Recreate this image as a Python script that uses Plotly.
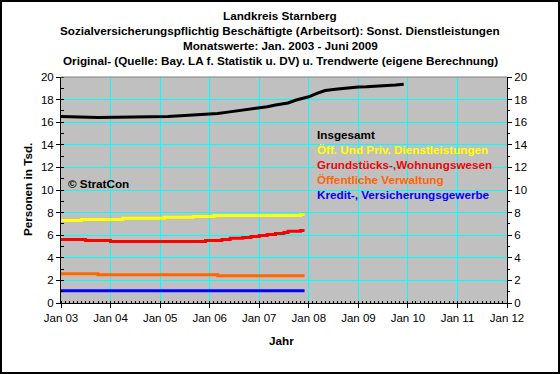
import plotly.graph_objects as go

# ---- data ----
total_dates = ["2003-01-01","2003-10-01","2005-03-01","2005-08-01","2005-12-01","2006-03-01",
               "2006-05-01","2006-07-01","2006-09-01","2006-11-01","2007-01-01","2007-03-01",
               "2007-05-01","2007-08-01","2007-10-01","2008-01-01","2008-03-01","2008-05-01",
               "2008-08-01","2008-10-01","2009-01-01","2009-03-01","2009-05-01","2009-08-01",
               "2009-10-01","2009-12-01"]
total_vals = [16.50,16.42,16.50,16.60,16.70,16.78,16.87,16.96,17.08,17.17,17.26,17.37,
              17.52,17.70,17.96,18.25,18.55,18.80,18.94,19.03,19.12,19.14,19.17,19.20,19.29,19.35]

dl_dates = ["2003-01-01","2003-06-01","2004-04-01","2005-02-01","2005-09-01","2006-02-01","2007-11-01","2007-12-01"]
dl_vals = [7.31,7.40,7.49,7.58,7.66,7.75,7.84,7.84]

gw_dates = ["2003-01-01","2003-07-01","2004-01-01","2005-12-01","2006-04-01","2006-06-01","2006-09-01",
            "2006-11-01","2007-01-01","2007-03-01","2007-05-01","2007-07-01","2007-08-01","2007-11-01","2007-12-01"]
gw_vals = [5.63,5.54,5.45,5.54,5.63,5.72,5.80,5.89,5.98,6.07,6.16,6.25,6.34,6.42,6.42]

ov_dates = ["2003-01-01","2003-10-01","2006-03-01","2007-12-01"]
ov_vals = [2.59,2.50,2.42,2.42]

kv_dates = ["2003-01-01","2007-12-01"]
kv_vals = [1.09,1.09]

series_names = ["Insgesamt","Öff. Und Priv. Dienstleistungen","Grundstücks-,Wohnungswesen",
                "Öffentliche Verwaltung","Kredit-, Versicherungsgewerbe"]
series_colors = ["#000000","#FFFF00","#FF0000","#FF6600","#0000FF"]

title_lines = ["Landkreis Starnberg",
               "Sozialversicherungspflichtig Beschäftigte (Arbeitsort): Sonst. Dienstleistungen",
               "Monatswerte: Jan. 2003 - Juni 2009",
               "Original- (Quelle: Bay. LA f. Statistik u. DV) u. Trendwerte (eigene Berechnung)"]

# ---- layout constants ----
W, H = 560, 374
ml, mr, mt, mb = 61, 53, 77, 71
pw, ph = W - ml - mr, H - mt - mb
def px(x):  # pixel -> paper x
    return (x - ml) / pw
def py(y):  # pixel -> paper y
    return (H - mb - y) / ph

FONT = "Liberation Sans, Arial, sans-serif"
BOLD = 11.7
TICK = 11.5

fig = go.Figure()
data = [(total_dates, total_vals, "linear"), (dl_dates, dl_vals, "hv"), (gw_dates, gw_vals, "hv"),
        (ov_dates, ov_vals, "hv"), (kv_dates, kv_vals, "hv")]
for (d, v, shape), name, col in zip(data, series_names, series_colors):
    fig.add_trace(go.Scatter(x=d, y=v, mode="lines", name=name,
                             line=dict(color=col, width=3, shape=shape), showlegend=False))
# invisible trace to anchor right axis
fig.add_trace(go.Scatter(x=kv_dates, y=kv_vals, yaxis="y2", mode="lines",
                         line=dict(width=0), opacity=0, showlegend=False, hoverinfo="skip"))

yax = dict(range=[0, 20], dtick=2, showgrid=True, gridcolor="#00FFFF", gridwidth=1,
           showline=True, linecolor="#000000", linewidth=1, ticks="outside", ticklen=4,
           tickcolor="#000000", zeroline=False,
           tickfont=dict(family=FONT, size=TICK, color="#000000"),
           minor=dict(dtick=1, ticks="inside", ticklen=3, tickcolor="#000000", showgrid=False))

fig.update_layout(
    width=W, height=H, margin=dict(l=ml, r=mr, t=mt, b=mb),
    paper_bgcolor="#FFFFFF", plot_bgcolor="#C0C0C0",
    xaxis=dict(type="date", range=["2003-01-01", "2012-01-01"], dtick="M12", tick0="2003-01-01",
               tickformat="%b %y", showgrid=True, gridcolor="#00FFFF", gridwidth=1,
               showline=True, linecolor="#000000", linewidth=1, ticks="outside", ticklen=4,
               tickcolor="#000000", zeroline=False,
               tickfont=dict(family=FONT, size=TICK, color="#000000"),
               minor=dict(dtick="M1", ticks="inside", ticklen=2, tickcolor="#000000", showgrid=False)),
    yaxis=yax,
    yaxis2=dict(yax, overlaying="y", side="right", showgrid=False,
                minor=dict(dtick=1, ticks="outside", ticklen=2, tickcolor="#000000", showgrid=False)),
    font=dict(family=FONT, size=11, color="#000000"),
)

anns = []
for i, t in enumerate(title_lines):
    anns.append(dict(text="<b>%s</b>" % t, x=px(280), y=py(15 + i * 15.3), xref="paper", yref="paper",
                     xanchor="center", yanchor="middle", showarrow=False,
                     font=dict(family=FONT, size=BOLD, color="#000000")))
anns.append(dict(text="<b>Personen in Tsd.</b>", x=px(27), y=py(190), xref="paper", yref="paper",
                 textangle=-90, xanchor="center", yanchor="middle", showarrow=False,
                 font=dict(family=FONT, size=BOLD, color="#000000")))
anns.append(dict(text="<b>Jahr</b>", x=px(281), y=py(340), xref="paper", yref="paper",
                 xanchor="center", yanchor="middle", showarrow=False,
                 font=dict(family=FONT, size=BOLD, color="#000000")))
anns.append(dict(text="<b>© StratCon</b>", x=px(66), y=py(183), xref="paper", yref="paper",
                 xanchor="left", yanchor="middle", showarrow=False,
                 font=dict(family=FONT, size=BOLD, color="#000000")))
for i, (name, col) in enumerate(zip(series_names, series_colors)):
    anns.append(dict(text="<b>%s</b>" % name, x=px(315), y=py(134 + i * 15.1), xref="paper", yref="paper",
                     xanchor="left", yanchor="middle", showarrow=False,
                     font=dict(family=FONT, size=BOLD, color=col)))
fig.update_layout(annotations=anns)

# plot area top border (grey) and outer black frame
fig.add_shape(type="line", xref="paper", yref="paper", x0=0, x1=1, y0=1, y1=1,
              line=dict(color="#808080", width=1))
fig.add_shape(type="rect", xref="paper", yref="paper", x0=px(1), x1=px(559), y0=py(1), y1=py(373),
              line=dict(color="#000000", width=2), fillcolor="rgba(0,0,0,0)", layer="above")

fig.write_html("out.html", config={"displayModeBar": False},
               post_script="document.body.style.margin='0';")
